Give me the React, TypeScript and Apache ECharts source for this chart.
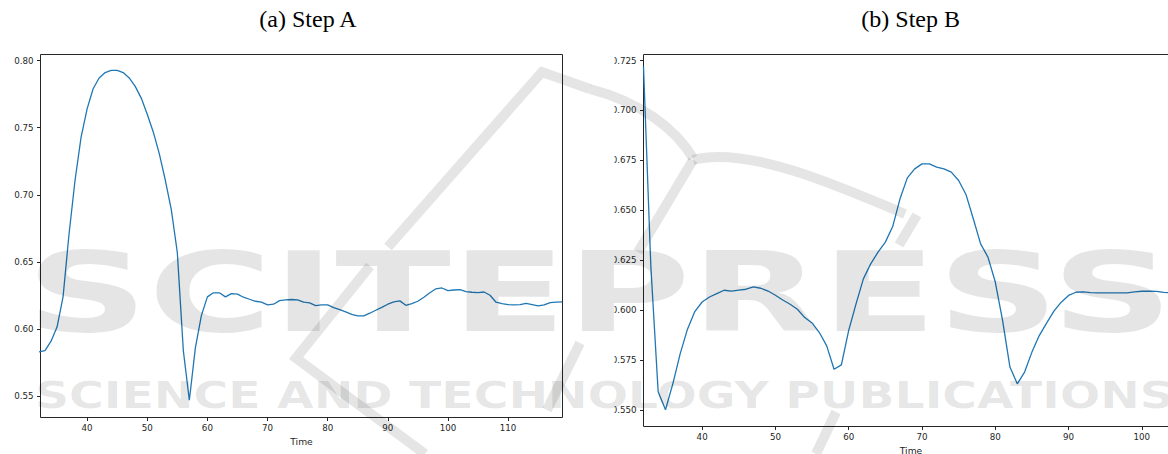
import React, { useEffect, useRef } from "react";
import * as echarts from "echarts";

// Step A series: one value per time step, starting at t = 32
const stepAStart = 32;
const stepAValues = [
  0.583, 0.584, 0.591, 0.6015, 0.624, 0.671, 0.711, 0.743, 0.764, 0.779,
  0.787, 0.791, 0.7926, 0.7926, 0.791, 0.787, 0.7807, 0.772, 0.76, 0.7468,
  0.7307, 0.711, 0.689, 0.657, 0.584, 0.547, 0.586, 0.61, 0.624, 0.627,
  0.627, 0.624, 0.6264, 0.626, 0.6237, 0.6222, 0.6207, 0.62, 0.618, 0.6185,
  0.6212, 0.6217, 0.622, 0.6217, 0.62, 0.6195, 0.6175, 0.618, 0.618, 0.616,
  0.6145, 0.6128, 0.611, 0.6098, 0.6098, 0.6118, 0.614, 0.6162, 0.6185, 0.6202,
  0.621, 0.6177, 0.619, 0.6207, 0.6237, 0.6271, 0.63, 0.6306, 0.6286, 0.6291,
  0.6294, 0.6279, 0.6274, 0.6271, 0.6276, 0.6252, 0.62, 0.619, 0.6182, 0.618,
  0.6182, 0.6192, 0.6182, 0.6172, 0.618, 0.6197, 0.62, 0.6202,
];

// Step B series: one value per time step, starting at t = 32
const stepBStart = 32;
const stepBValues = [
  0.722, 0.622, 0.559, 0.55, 0.563, 0.578, 0.5904, 0.5992, 0.604, 0.6065,
  0.6082, 0.6099, 0.6095, 0.61, 0.6104, 0.6116, 0.6109, 0.6095, 0.6074, 0.605,
  0.6029, 0.6004, 0.5962, 0.5935, 0.5887, 0.582, 0.5703, 0.5725, 0.5898, 0.6031,
  0.6156, 0.6231, 0.629, 0.634, 0.6418, 0.6557, 0.6662, 0.6707, 0.6732, 0.6732,
  0.6716, 0.6707, 0.6691, 0.6649, 0.6579, 0.6457, 0.6331, 0.6265, 0.614, 0.5947,
  0.5714, 0.563, 0.5689, 0.5789, 0.5872, 0.5934, 0.5994, 0.6039, 0.6073, 0.6089,
  0.6091, 0.6087, 0.6086, 0.6086, 0.6086, 0.6086, 0.6086, 0.6091, 0.6094, 0.6094,
  0.6093, 0.6088, 0.6087, 0.6087,
];

// Tick positions
const xTicksA = [40, 50, 60, 70, 80, 90, 100, 110];
const yTicksA = [0.55, 0.6, 0.65, 0.7, 0.75, 0.8];
const xTicksB = [40, 50, 60, 70, 80, 90, 100];
const yTicksB = [0.55, 0.575, 0.6, 0.625, 0.65, 0.675, 0.7, 0.725];

const panelTitles = ["(a) Step A", "(b) Step B"];
const axisName = "Time";

const LINE_COLOR = "#1f77b4";
const INK = "#262626";
const MARK = "rgba(0,0,0,0.1)";

const tickLabel = {
  fontFamily: "DejaVu Sans",
  fontSize: 8.7,
  color: INK,
};

function pairs(start: number, values: number[]) {
  return values.map((v, i) => [start + i, v]);
}

function xAxisFor(gridIndex: number, min: number, max: number, ticks: number[]) {
  return {
    type: "value",
    gridIndex,
    min,
    max,
    z: 4,
    axisLine: { show: false },
    splitLine: { show: false },
    axisTick: {
      show: true,
      length: 3.5,
      customValues: ticks,
      lineStyle: { color: INK, width: 1 },
    },
    axisLabel: {
      customValues: ticks,
      margin: 6,
      ...tickLabel,
      formatter: (v: number) => String(Math.round(v)),
    },
    name: axisName,
    nameLocation: "middle",
    nameGap: 18,
    nameTextStyle: { fontFamily: "DejaVu Sans", fontSize: 9.2, color: INK },
  };
}

function yAxisFor(gridIndex: number, min: number, max: number, ticks: number[], digits: number) {
  return {
    type: "value",
    gridIndex,
    min,
    max,
    z: 4,
    axisLine: { show: false },
    splitLine: { show: false },
    axisTick: {
      show: true,
      length: 3.5,
      customValues: ticks,
      lineStyle: { color: INK, width: 1 },
    },
    axisLabel: {
      customValues: ticks,
      margin: 7,
      ...tickLabel,
      formatter: (v: number) => v.toFixed(digits),
    },
  };
}

export default function App() {
  const ref = useRef<HTMLDivElement>(null);

  useEffect(() => {
    if (!ref.current) return;
    const chart = echarts.init(ref.current, undefined, { renderer: "svg" });

    const strokeMark = { stroke: MARK, lineWidth: 10, fill: null, lineCap: "butt" };

    chart.setOption({
      animation: false,
      backgroundColor: "#ffffff",
      grid: [
        {
          left: 40.5, top: 54.5, width: 522, height: 363,
          show: true, borderColor: INK, borderWidth: 1,
          backgroundColor: "transparent", z: 4,
          outerBoundsMode: "none", containLabel: false,
        },
        {
          left: 643.5, top: 54.5, width: 535, height: 372,
          show: true, borderColor: INK, borderWidth: 1,
          backgroundColor: "transparent", z: 4,
          outerBoundsMode: "none", containLabel: false,
        },
      ],
      xAxis: [
        xAxisFor(0, 32.25, 119.05, xTicksA),
        xAxisFor(1, 32, 105, xTicksB),
      ],
      yAxis: [
        yAxisFor(0, 0.53414, 0.80447, yTicksA, 2),
        yAxisFor(1, 0.54163, 0.72801, yTicksB, 3),
      ],
      series: [
        {
          type: "line",
          xAxisIndex: 0,
          yAxisIndex: 0,
          data: pairs(stepAStart, stepAValues),
          showSymbol: false,
          symbol: "none",
          z: 5,
          lineStyle: { color: LINE_COLOR, width: 1.3 },
        },
        {
          type: "line",
          xAxisIndex: 1,
          yAxisIndex: 1,
          data: pairs(stepBStart, stepBValues),
          showSymbol: false,
          symbol: "none",
          z: 5,
          lineStyle: { color: LINE_COLOR, width: 1.3 },
        },
      ],
      graphic: [
        // the right figure is cut at its left edge
        {
          type: "rect", z: 6, silent: true,
          shape: { x: 588, y: 48, width: 26.5, height: 390 },
          style: { fill: "#ffffff" },
        },
        // publisher watermark, laid over the whole page
        {
          type: "text", z: 7, silent: true, x: 26, y: 293, scaleX: 1.54,
          style: {
            text: "SCITEPRESS",
            font: 'bold 110px "DejaVu Sans"',
            fill: MARK, align: "left", verticalAlign: "middle",
          },
        },
        {
          type: "text", z: 7, silent: true, x: 35, y: 395, scaleX: 1.28,
          style: {
            text: "SCIENCE AND TECHNOLOGY PUBLICATIONS",
            font: 'bold 37px "DejaVu Sans"',
            fill: MARK, align: "left", verticalAlign: "middle",
          },
        },
        {
          type: "polyline", z: 7, silent: true,
          shape: { points: [[388, 247], [542, 72], [590, 89]] },
          style: strokeMark,
        },
        {
          type: "bezierCurve", z: 7, silent: true,
          shape: { x1: 590, y1: 89, cpx1: 640, cpy1: 102, cpx2: 675, cpy2: 128, x2: 693, y2: 158 },
          style: strokeMark,
        },
        {
          type: "bezierCurve", z: 7, silent: true,
          shape: { x1: 693, y1: 160, cpx1: 745, cpy1: 146, cpx2: 830, cpy2: 182, x2: 905, y2: 214 },
          style: strokeMark,
        },
        {
          type: "line", z: 7, silent: true,
          shape: { x1: 917, y1: 215, x2: 899, y2: 245 },
          style: strokeMark,
        },
        {
          type: "line", z: 7, silent: true,
          shape: { x1: 693, y1: 160, x2: 638, y2: 252 },
          style: strokeMark,
        },
        {
          type: "polyline", z: 7, silent: true,
          shape: { points: [[370, 266], [296, 358], [425, 454]] },
          style: strokeMark,
        },
        {
          type: "line", z: 7, silent: true,
          shape: { x1: 580, y1: 343, x2: 547, y2: 410 },
          style: strokeMark,
        },
        {
          type: "line", z: 7, silent: true,
          shape: { x1: 836, y1: 412, x2: 816, y2: 454 },
          style: strokeMark,
        },
        // panel titles
        {
          type: "text", z: 8, x: 308, y: 19,
          style: {
            text: panelTitles[0], font: '24px "Liberation Serif"',
            fill: "#000", align: "center", verticalAlign: "middle",
          },
        },
        {
          type: "text", z: 8, x: 910.7, y: 19,
          style: {
            text: panelTitles[1], font: '24px "Liberation Serif"',
            fill: "#000", align: "center", verticalAlign: "middle",
          },
        },
      ],
    });

    return () => chart.dispose();
  }, []);

  return (
    <div
      ref={ref}
      style={{ position: "absolute", left: 0, top: 0, width: 1168, height: 454 }}
    />
  );
}
